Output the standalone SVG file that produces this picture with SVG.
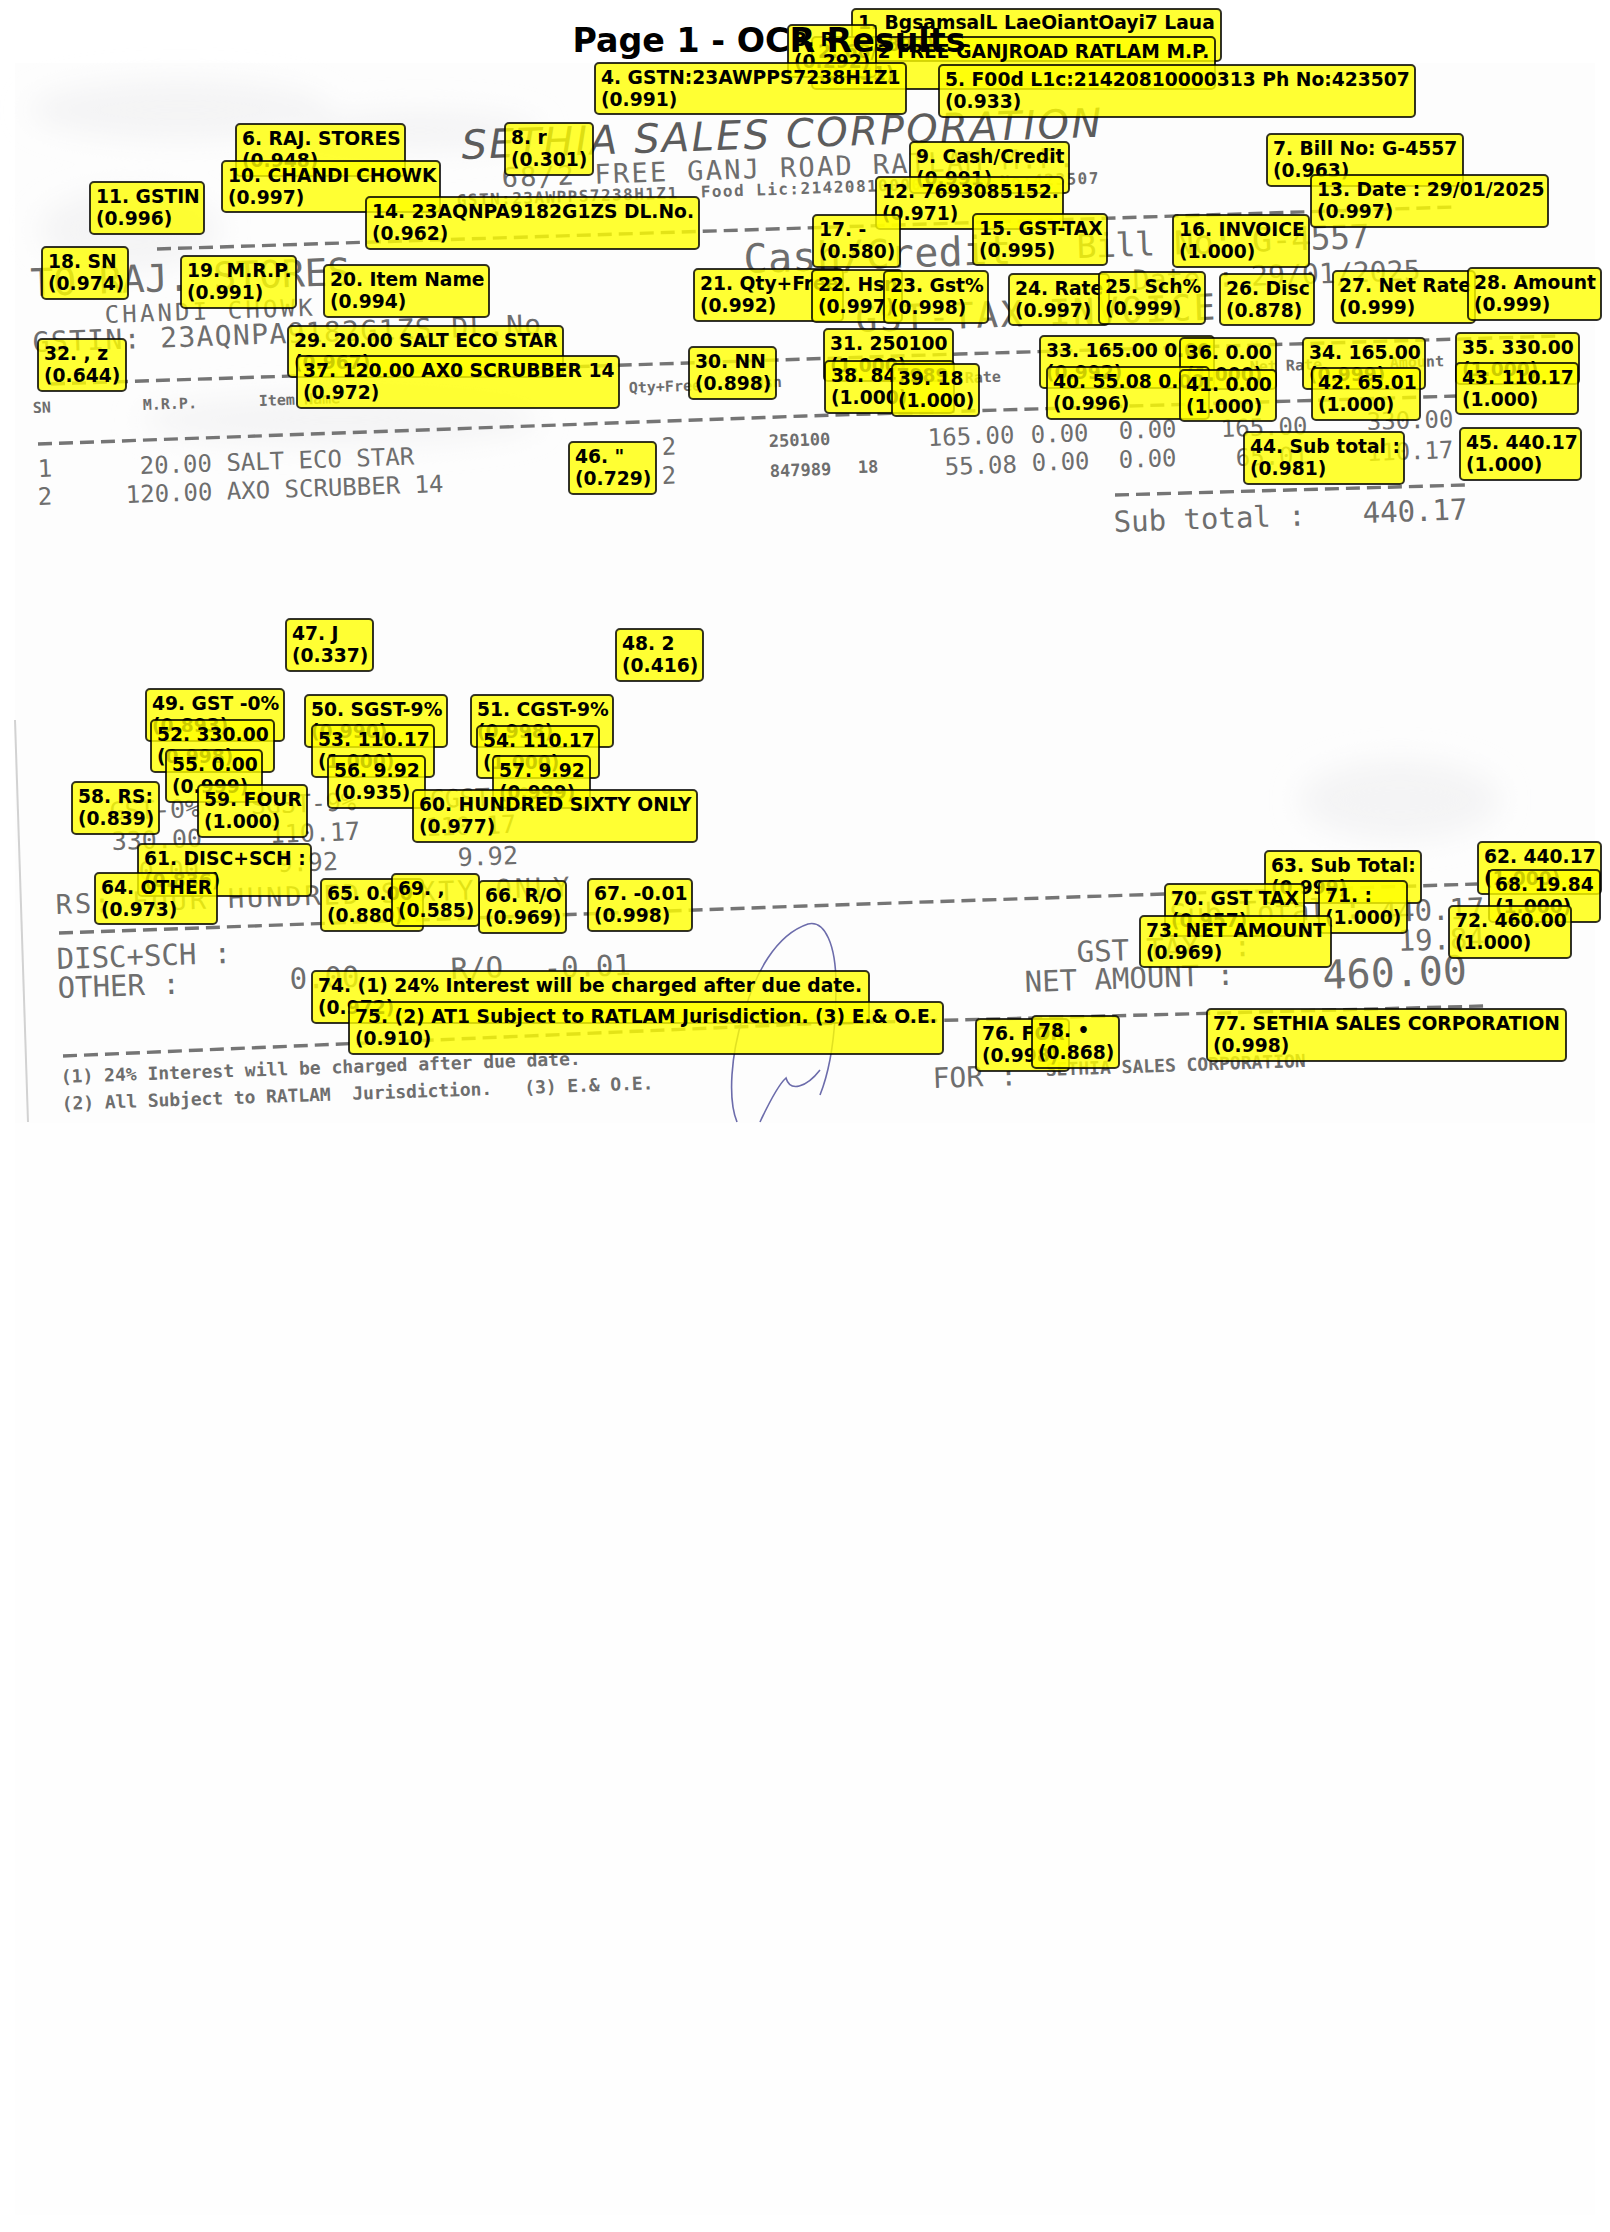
<svg xmlns="http://www.w3.org/2000/svg" width="1610" height="2232" viewBox="0 0 1610 2232">
<style>
.b{fill:#ff0;fill-opacity:.8;stroke:#000;stroke-opacity:.8;stroke-width:2}
.t{font:bold 18.7px "DejaVu Sans",sans-serif;fill:#000}
.m{font-family:"DejaVu Sans Mono",monospace;fill:#6e6e6e;white-space:pre}
.d{fill:none;stroke:#757575;stroke-width:3.4;stroke-dasharray:14 7}
.title{font:bold 33.3px "DejaVu Sans",sans-serif;fill:#000;text-anchor:middle}
</style>
<defs><filter id="blur" x="-30%" y="-30%" width="160%" height="160%"><feGaussianBlur stdDeviation="14"/></filter></defs>
<rect width="1610" height="2232" fill="#fff"/>
<rect x="15" y="63" width="1580" height="2152" fill="#fefefe"/>
<rect x="15" y="63" width="1580" height="1060" fill="#fdfdfd"/>
<g id="paper-marks" filter="url(#blur)" fill="#f4f4f5">
<ellipse cx="180" cy="110" rx="150" ry="30"/><ellipse cx="130" cy="230" rx="90" ry="40"/><ellipse cx="420" cy="130" rx="120" ry="20"/><ellipse cx="340" cy="420" rx="200" ry="25"/><ellipse cx="1400" cy="800" rx="100" ry="40"/>
</g>
<path d="M15 720 L28 1122" fill="none" stroke="#d2d2d2" stroke-width="2"/>
<g id="receipt">
<text class="m" transform="translate(462 159) rotate(-2)" style="font-family:'DejaVu Sans',sans-serif;font-style:italic;font-size:40px;fill:#5c5c5c" textLength="640" lengthAdjust="spacing">SETHIA SALES CORPORATION</text>
<text class="m" transform="translate(502 187) rotate(-2)" font-size="27" textLength="573" lengthAdjust="spacing">68/2 FREE GANJ ROAD RATLAM M.P.</text>
<text class="m" transform="translate(457 206) rotate(-2)" font-size="16" font-weight="bold" textLength="642" lengthAdjust="spacing">GSTN:23AWPPS7238H1Z1  Food Lic:21420810000313 Ph No:423507</text>
<path class="d" d="M157 249L805 228L1454 207"/>
<text class="m" transform="translate(744 273) rotate(-2)" font-size="40" textLength="268" lengthAdjust="spacing">Cash/Credit</text>
<text class="m" transform="translate(1077 258) rotate(-2)" font-size="33" textLength="293" lengthAdjust="spacing">Bill No: G-4557</text>
<text class="m" transform="translate(1133 290) rotate(-2)" font-size="28" textLength="288" lengthAdjust="spacing">Date : 29/01/2025</text>
<text class="m" transform="translate(31 296) rotate(-2)" font-size="38" textLength="320" lengthAdjust="spacing">TO RAJ. STORES</text>
<text class="m" transform="translate(105 323) rotate(-2)" font-size="24" textLength="208" lengthAdjust="spacing">CHANDI CHOWK</text>
<text class="m" transform="translate(33 352) rotate(-2)" font-size="28" textLength="527" lengthAdjust="spacing">GSTIN: 23AQNPA9182G1ZS DL.No.</text>
<text class="m" transform="translate(856 332) rotate(-2)" font-size="36" textLength="360" lengthAdjust="spacing">GST-TAX INVOICE</text>
<path class="d" d="M51 384L959 354L1560 336"/>
<g font-size="15" font-weight="bold">
<text class="m" transform="translate(33 413) rotate(-2)">SN</text>
<text class="m" transform="translate(143 410) rotate(-2)">M.R.P.</text>
<text class="m" transform="translate(259 406) rotate(-2)">Item Name</text>
<text class="m" transform="translate(629 393) rotate(-2)">Qty+Free</text>
<text class="m" transform="translate(755 388) rotate(-2)">Hsn</text>
<text class="m" transform="translate(965 383) rotate(-2)">Rate</text>
<text class="m" transform="translate(1250 372) rotate(-2)">Net Rate</text>
<text class="m" transform="translate(1390 368) rotate(-2)">Amount</text>
</g>
<path class="d" d="M38 444L805 416L1457 396"/>
<g font-size="24">
<text class="m" transform="translate(38 477) rotate(-2)">1</text>
<text class="m" transform="translate(140 474) rotate(-2)">20.00 SALT ECO STAR</text>
<text class="m" transform="translate(662 455) rotate(-2)">2</text>
<text class="m" transform="translate(928 446) rotate(-2)">165.00</text>
<text class="m" transform="translate(1031 443) rotate(-2)">0.00</text>
<text class="m" transform="translate(1119 439) rotate(-2)">0.00</text>
<text class="m" transform="translate(1221 437) rotate(-2)">165.00</text>
<text class="m" transform="translate(1367 430) rotate(-2)">330.00</text>
<text class="m" transform="translate(38 505) rotate(-2)">2</text>
<text class="m" transform="translate(126 503) rotate(-2)">120.00 AXO SCRUBBER 14</text>
<text class="m" transform="translate(662 484) rotate(-2)">2</text>
<text class="m" transform="translate(945 475) rotate(-2)">55.08</text>
<text class="m" transform="translate(1032 471) rotate(-2)">0.00</text>
<text class="m" transform="translate(1119 468) rotate(-2)">0.00</text>
<text class="m" transform="translate(1236 466) rotate(-2)">65.01</text>
<text class="m" transform="translate(1367 461) rotate(-2)">110.17</text>
</g>
<g font-size="17" font-weight="bold">
<text class="m" transform="translate(769 447) rotate(-2)">250100</text>
<text class="m" transform="translate(770 477) rotate(-2)">847989</text>
<text class="m" transform="translate(858 473) rotate(-2)">18</text>
</g>
<path class="d" d="M1115 495L1465 485"/>
<text class="m" transform="translate(1114 532) rotate(-2)" font-size="29">Sub total :</text>
<text class="m" transform="translate(1363 523) rotate(-2)" font-size="29">440.17</text>
<g font-size="25">
<text class="m" transform="translate(110 820) rotate(-2)">GST-0%</text>
<text class="m" transform="translate(251 814) rotate(-2)">SGST-9%</text>
<text class="m" transform="translate(430 808) rotate(-2)">CGST-9%</text>
<text class="m" transform="translate(112 850) rotate(-2)">330.00</text>
<text class="m" transform="translate(270 843) rotate(-2)">110.17</text>
<text class="m" transform="translate(426 836) rotate(-2)">110.17</text>
<text class="m" transform="translate(139 880) rotate(-2)">0.00</text>
<text class="m" transform="translate(278 872) rotate(-2)">9.92</text>
<text class="m" transform="translate(458 866) rotate(-2)">9.92</text>
</g>
<text class="m" transform="translate(56 914) rotate(-2)" font-size="27" textLength="514" lengthAdjust="spacing">RS: FOUR HUNDRED SIXTY ONLY</text>
<path class="d" d="M59 933L805 906L1164 894L1477 884"/>
<text class="m" transform="translate(57 969) rotate(-2)" font-size="29">DISC+SCH :</text>
<text class="m" transform="translate(58 998) rotate(-2)" font-size="29">OTHER :</text>
<text class="m" transform="translate(290 989) rotate(-2)" font-size="29">0.00</text>
<text class="m" transform="translate(451 979) rotate(-2)" font-size="29">R/O</text>
<text class="m" transform="translate(544 978) rotate(-2)" font-size="29">-0.01</text>
<text class="m" transform="translate(1170 925) rotate(-2)" font-size="29">Sub Total :</text>
<text class="m" transform="translate(1380 922) rotate(-2)" font-size="29">440.17</text>
<text class="m" transform="translate(1398 951) rotate(-2)" font-size="29">19.84</text>
<text class="m" transform="translate(1077 962) rotate(-2)" font-size="29">GST TAX  :</text>
<text class="m" transform="translate(1025 992) rotate(-2)" font-size="29">NET AMOUNT :</text>
<text class="m" transform="translate(1323 989) rotate(-2)" font-size="40">460.00</text>
<path class="d" d="M63 1056L805 1024L1485 1006"/>
<text class="m" transform="translate(61 1083) rotate(-2)" font-size="18" font-weight="bold">(1) 24% Interest will be charged after due date.</text>
<text class="m" transform="translate(62 1110) rotate(-2)" font-size="18" font-weight="bold" textLength="592" lengthAdjust="spacing">(2) All Subject to RATLAM  Jurisdiction.   (3) E.&amp; O.E.</text>
<text class="m" transform="translate(933 1088) rotate(-2)" font-size="28">FOR :</text>
<text class="m" transform="translate(1046 1076) rotate(-2)" font-size="18" font-weight="bold">SETHIA SALES CORPORATION</text>
<path d="M737 1122C728 1100 730 1055 745 1010C755 975 775 935 808 924C825 920 836 945 836 985C836 1040 828 1075 820 1095M760 1122C768 1105 778 1085 786 1078C790 1092 806 1088 820 1070" fill="none" stroke="#6c6cab" stroke-width="1.6"/>
</g>
<g id="ocr-labels">
<g id="n1"><rect class="b" x="852" y="9" width="369" height="52" rx="4"/><text class="t" x="858" y="29">1. BgsamsalL LaeOiantOayi7 Laua</text><text class="t" x="858" y="51">(0.892)</text></g>
<g id="n2"><rect class="b" x="812" y="37" width="403" height="52" rx="4"/><text class="t" x="818" y="58">2. 68/2 FREE GANJROAD RATLAM M.P.</text><text class="t" x="818" y="80">(0.931)</text></g>
<g id="n3"><rect class="b" x="788" y="25" width="88" height="52" rx="4"/><text class="t" x="794" y="46">3. R</text><text class="t" x="794" y="68">(0.292)</text></g>
<g id="n4"><rect class="b" x="595" y="63" width="311" height="51" rx="4"/><text class="t" x="601" y="84">4. GSTN:23AWPPS7238H1Z1</text><text class="t" x="601" y="106">(0.991)</text></g>
<g id="n5"><rect class="b" x="939" y="65" width="476" height="52" rx="4"/><text class="t" x="945" y="86">5. F00d L1c:21420810000313 Ph No:423507</text><text class="t" x="945" y="108">(0.933)</text></g>
<g id="n6"><rect class="b" x="236" y="124" width="169" height="52" rx="4"/><text class="t" x="242" y="145">6. RAJ. STORES</text><text class="t" x="242" y="167">(0.948)</text></g>
<g id="n7"><rect class="b" x="1267" y="134" width="196" height="52" rx="4"/><text class="t" x="1273" y="155">7. Bill No: G-4557</text><text class="t" x="1273" y="177">(0.963)</text></g>
<g id="n8"><rect class="b" x="505" y="123" width="88" height="52" rx="4"/><text class="t" x="511" y="144">8. r</text><text class="t" x="511" y="166">(0.301)</text></g>
<g id="n9"><rect class="b" x="910" y="142" width="159" height="51" rx="4"/><text class="t" x="916" y="163">9. Cash/Credit</text><text class="t" x="916" y="185">(0.991)</text></g>
<g id="n10"><rect class="b" x="222" y="161" width="218" height="51" rx="4"/><text class="t" x="228" y="182">10. CHANDI CHOWK</text><text class="t" x="228" y="204">(0.997)</text></g>
<g id="n11"><rect class="b" x="90" y="182" width="114" height="52" rx="4"/><text class="t" x="96" y="203">11. GSTIN</text><text class="t" x="96" y="225">(0.996)</text></g>
<g id="n12"><rect class="b" x="876" y="177" width="187" height="52" rx="4"/><text class="t" x="882" y="198">12. 7693085152.</text><text class="t" x="882" y="220">(0.971)</text></g>
<g id="n13"><rect class="b" x="1311" y="175" width="237" height="52" rx="4"/><text class="t" x="1317" y="196">13. Date : 29/01/2025</text><text class="t" x="1317" y="218">(0.997)</text></g>
<g id="n14"><rect class="b" x="366" y="197" width="333" height="52" rx="4"/><text class="t" x="372" y="218">14. 23AQNPA9182G1ZS DL.No.</text><text class="t" x="372" y="240">(0.962)</text></g>
<g id="n15"><rect class="b" x="973" y="214" width="134" height="51" rx="4"/><text class="t" x="979" y="235">15. GST-TAX</text><text class="t" x="979" y="257">(0.995)</text></g>
<g id="n16"><rect class="b" x="1173" y="215" width="136" height="52" rx="4"/><text class="t" x="1179" y="236">16. INVOICE</text><text class="t" x="1179" y="258">(1.000)</text></g>
<g id="n17"><rect class="b" x="813" y="215" width="87" height="52" rx="4"/><text class="t" x="819" y="236">17. -</text><text class="t" x="819" y="258">(0.580)</text></g>
<g id="n18"><rect class="b" x="42" y="247" width="86" height="52" rx="4"/><text class="t" x="48" y="268">18. SN</text><text class="t" x="48" y="290">(0.974)</text></g>
<g id="n19"><rect class="b" x="181" y="256" width="115" height="52" rx="4"/><text class="t" x="187" y="277">19. M.R.P.</text><text class="t" x="187" y="299">(0.991)</text></g>
<g id="n20"><rect class="b" x="324" y="265" width="165" height="52" rx="4"/><text class="t" x="330" y="286">20. Item Name</text><text class="t" x="330" y="308">(0.994)</text></g>
<g id="n21"><rect class="b" x="694" y="269" width="149" height="52" rx="4"/><text class="t" x="700" y="290">21. Qty+Free</text><text class="t" x="700" y="312">(0.992)</text></g>
<g id="n22"><rect class="b" x="812" y="270" width="90" height="52" rx="4"/><text class="t" x="818" y="291">22. Hsn</text><text class="t" x="818" y="313">(0.997)</text></g>
<g id="n23"><rect class="b" x="884" y="271" width="104" height="52" rx="4"/><text class="t" x="890" y="292">23. Gst%</text><text class="t" x="890" y="314">(0.998)</text></g>
<g id="n24"><rect class="b" x="1009" y="274" width="100" height="51" rx="4"/><text class="t" x="1015" y="295">24. Rate</text><text class="t" x="1015" y="317">(0.997)</text></g>
<g id="n25"><rect class="b" x="1099" y="272" width="106" height="52" rx="4"/><text class="t" x="1105" y="293">25. Sch%</text><text class="t" x="1105" y="315">(0.999)</text></g>
<g id="n26"><rect class="b" x="1220" y="274" width="94" height="51" rx="4"/><text class="t" x="1226" y="295">26. Disc</text><text class="t" x="1226" y="317">(0.878)</text></g>
<g id="n27"><rect class="b" x="1333" y="271" width="142" height="52" rx="4"/><text class="t" x="1339" y="292">27. Net Rate</text><text class="t" x="1339" y="314">(0.999)</text></g>
<g id="n28"><rect class="b" x="1468" y="268" width="133" height="52" rx="4"/><text class="t" x="1474" y="289">28. Amount</text><text class="t" x="1474" y="311">(0.999)</text></g>
<g id="n29"><rect class="b" x="288" y="326" width="275" height="51" rx="4"/><text class="t" x="294" y="347">29. 20.00 SALT ECO STAR</text><text class="t" x="294" y="369">(0.967)</text></g>
<g id="n30"><rect class="b" x="689" y="347" width="87" height="52" rx="4"/><text class="t" x="695" y="368">30. NN</text><text class="t" x="695" y="390">(0.898)</text></g>
<g id="n31"><rect class="b" x="824" y="329" width="129" height="52" rx="4"/><text class="t" x="830" y="350">31. 250100</text><text class="t" x="830" y="372">(1.000)</text></g>
<g id="n32"><rect class="b" x="38" y="339" width="88" height="52" rx="4"/><text class="t" x="44" y="360">32. , z</text><text class="t" x="44" y="382">(0.644)</text></g>
<g id="n33"><rect class="b" x="1040" y="336" width="174" height="52" rx="4"/><text class="t" x="1046" y="357">33. 165.00 0.00</text><text class="t" x="1046" y="379">(0.992)</text></g>
<g id="n34"><rect class="b" x="1303" y="338" width="122" height="51" rx="4"/><text class="t" x="1309" y="359">34. 165.00</text><text class="t" x="1309" y="381">(0.999)</text></g>
<g id="n35"><rect class="b" x="1456" y="333" width="123" height="51" rx="4"/><text class="t" x="1462" y="354">35. 330.00</text><text class="t" x="1462" y="376">(1.000)</text></g>
<g id="n36"><rect class="b" x="1180" y="338" width="96" height="51" rx="4"/><text class="t" x="1186" y="359">36. 0.00</text><text class="t" x="1186" y="381">(1.000)</text></g>
<g id="n37"><rect class="b" x="297" y="356" width="322" height="52" rx="4"/><text class="t" x="303" y="377">37. 120.00 AX0 SCRUBBER 14</text><text class="t" x="303" y="399">(0.972)</text></g>
<g id="n38"><rect class="b" x="825" y="361" width="129" height="52" rx="4"/><text class="t" x="831" y="382">38. 847989</text><text class="t" x="831" y="404">(1.000)</text></g>
<g id="n39"><rect class="b" x="892" y="364" width="87" height="52" rx="4"/><text class="t" x="898" y="385">39. 18</text><text class="t" x="898" y="407">(1.000)</text></g>
<g id="n40"><rect class="b" x="1047" y="367" width="162" height="52" rx="4"/><text class="t" x="1053" y="388">40. 55.08 0.00</text><text class="t" x="1053" y="410">(0.996)</text></g>
<g id="n41"><rect class="b" x="1180" y="370" width="96" height="51" rx="4"/><text class="t" x="1186" y="391">41. 0.00</text><text class="t" x="1186" y="413">(1.000)</text></g>
<g id="n42"><rect class="b" x="1312" y="368" width="108" height="52" rx="4"/><text class="t" x="1318" y="389">42. 65.01</text><text class="t" x="1318" y="411">(1.000)</text></g>
<g id="n43"><rect class="b" x="1456" y="363" width="122" height="51" rx="4"/><text class="t" x="1462" y="384">43. 110.17</text><text class="t" x="1462" y="406">(1.000)</text></g>
<g id="n44"><rect class="b" x="1244" y="432" width="160" height="52" rx="4"/><text class="t" x="1250" y="453">44. Sub total :</text><text class="t" x="1250" y="475">(0.981)</text></g>
<g id="n45"><rect class="b" x="1460" y="428" width="121" height="52" rx="4"/><text class="t" x="1466" y="449">45. 440.17</text><text class="t" x="1466" y="471">(1.000)</text></g>
<g id="n46"><rect class="b" x="569" y="442" width="87" height="52" rx="4"/><text class="t" x="575" y="463">46. "</text><text class="t" x="575" y="485">(0.729)</text></g>
<g id="n47"><rect class="b" x="286" y="619" width="87" height="52" rx="4"/><text class="t" x="292" y="640">47. J</text><text class="t" x="292" y="662">(0.337)</text></g>
<g id="n48"><rect class="b" x="616" y="629" width="87" height="52" rx="4"/><text class="t" x="622" y="650">48. 2</text><text class="t" x="622" y="672">(0.416)</text></g>
<g id="n49"><rect class="b" x="146" y="689" width="138" height="52" rx="4"/><text class="t" x="152" y="710">49. GST -0%</text><text class="t" x="152" y="732">(0.893)</text></g>
<g id="n50"><rect class="b" x="305" y="695" width="142" height="52" rx="4"/><text class="t" x="311" y="716">50. SGST-9%</text><text class="t" x="311" y="738">(0.990)</text></g>
<g id="n51"><rect class="b" x="471" y="695" width="142" height="52" rx="4"/><text class="t" x="477" y="716">51. CGST-9%</text><text class="t" x="477" y="738">(0.998)</text></g>
<g id="n52"><rect class="b" x="151" y="720" width="123" height="52" rx="4"/><text class="t" x="157" y="741">52. 330.00</text><text class="t" x="157" y="763">(0.998)</text></g>
<g id="n53"><rect class="b" x="312" y="725" width="122" height="52" rx="4"/><text class="t" x="318" y="746">53. 110.17</text><text class="t" x="318" y="768">(1.000)</text></g>
<g id="n54"><rect class="b" x="477" y="726" width="122" height="52" rx="4"/><text class="t" x="483" y="747">54. 110.17</text><text class="t" x="483" y="769">(1.000)</text></g>
<g id="n55"><rect class="b" x="166" y="750" width="96" height="52" rx="4"/><text class="t" x="172" y="771">55. 0.00</text><text class="t" x="172" y="793">(0.999)</text></g>
<g id="n56"><rect class="b" x="328" y="756" width="97" height="52" rx="4"/><text class="t" x="334" y="777">56. 9.92</text><text class="t" x="334" y="799">(0.935)</text></g>
<g id="n57"><rect class="b" x="493" y="756" width="97" height="52" rx="4"/><text class="t" x="499" y="777">57. 9.92</text><text class="t" x="499" y="799">(0.999)</text></g>
<g id="n58"><rect class="b" x="72" y="782" width="87" height="52" rx="4"/><text class="t" x="78" y="803">58. RS:</text><text class="t" x="78" y="825">(0.839)</text></g>
<g id="n59"><rect class="b" x="198" y="785" width="109" height="52" rx="4"/><text class="t" x="204" y="806">59. FOUR</text><text class="t" x="204" y="828">(1.000)</text></g>
<g id="n60"><rect class="b" x="413" y="790" width="284" height="52" rx="4"/><text class="t" x="419" y="811">60. HUNDRED SIXTY ONLY</text><text class="t" x="419" y="833">(0.977)</text></g>
<g id="n61"><rect class="b" x="138" y="844" width="173" height="52" rx="4"/><text class="t" x="144" y="865">61. DISC+SCH :</text><text class="t" x="144" y="887">(0.836)</text></g>
<g id="n62"><rect class="b" x="1478" y="842" width="123" height="52" rx="4"/><text class="t" x="1484" y="863">62. 440.17</text><text class="t" x="1484" y="885">(1.000)</text></g>
<g id="n63"><rect class="b" x="1265" y="851" width="156" height="52" rx="4"/><text class="t" x="1271" y="872">63. Sub Total:</text><text class="t" x="1271" y="894">(0.999)</text></g>
<g id="n64"><rect class="b" x="95" y="873" width="122" height="51" rx="4"/><text class="t" x="101" y="894">64. OTHER</text><text class="t" x="101" y="916">(0.973)</text></g>
<g id="n65"><rect class="b" x="321" y="879" width="102" height="52" rx="4"/><text class="t" x="327" y="900">65. 0.00</text><text class="t" x="327" y="922">(0.880)</text></g>
<g id="n66"><rect class="b" x="479" y="881" width="87" height="52" rx="4"/><text class="t" x="485" y="902">66. R/O</text><text class="t" x="485" y="924">(0.969)</text></g>
<g id="n67"><rect class="b" x="588" y="879" width="104" height="52" rx="4"/><text class="t" x="594" y="900">67. -0.01</text><text class="t" x="594" y="922">(0.998)</text></g>
<g id="n68"><rect class="b" x="1489" y="870" width="111" height="52" rx="4"/><text class="t" x="1495" y="891">68. 19.84</text><text class="t" x="1495" y="913">(1.000)</text></g>
<g id="n69"><rect class="b" x="392" y="874" width="87" height="52" rx="4"/><text class="t" x="398" y="895">69. ,</text><text class="t" x="398" y="917">(0.585)</text></g>
<g id="n70"><rect class="b" x="1165" y="884" width="139" height="52" rx="4"/><text class="t" x="1171" y="905">70. GST TAX</text><text class="t" x="1171" y="927">(0.957)</text></g>
<g id="n71"><rect class="b" x="1319" y="881" width="88" height="52" rx="4"/><text class="t" x="1325" y="902">71. :</text><text class="t" x="1325" y="924">(1.000)</text></g>
<g id="n72"><rect class="b" x="1449" y="906" width="122" height="52" rx="4"/><text class="t" x="1455" y="927">72. 460.00</text><text class="t" x="1455" y="949">(1.000)</text></g>
<g id="n73"><rect class="b" x="1140" y="916" width="191" height="51" rx="4"/><text class="t" x="1146" y="937">73. NET AMOUNT</text><text class="t" x="1146" y="959">(0.969)</text></g>
<g id="n74"><rect class="b" x="312" y="971" width="557" height="52" rx="4"/><text class="t" x="318" y="992">74. (1) 24% Interest will be charged after due date.</text><text class="t" x="318" y="1014">(0.972)</text></g>
<g id="n75"><rect class="b" x="349" y="1002" width="594" height="52" rx="4"/><text class="t" x="355" y="1023">75. (2) AT1 Subject to RATLAM Jurisdiction. (3) E.&amp; O.E.</text><text class="t" x="355" y="1045">(0.910)</text></g>
<g id="n76"><rect class="b" x="976" y="1019" width="93" height="52" rx="4"/><text class="t" x="982" y="1040">76. FOR</text><text class="t" x="982" y="1062">(0.998)</text></g>
<g id="n77"><rect class="b" x="1207" y="1009" width="359" height="52" rx="4"/><text class="t" x="1213" y="1030">77. SETHIA SALES CORPORATION</text><text class="t" x="1213" y="1052">(0.998)</text></g>
<g id="n78"><rect class="b" x="1032" y="1016" width="87" height="52" rx="4"/><text class="t" x="1038" y="1037">78. •</text><text class="t" x="1038" y="1059">(0.868)</text></g>
</g>
<text class="title" x="769" y="52">Page 1 - OCR Results</text>
</svg>
